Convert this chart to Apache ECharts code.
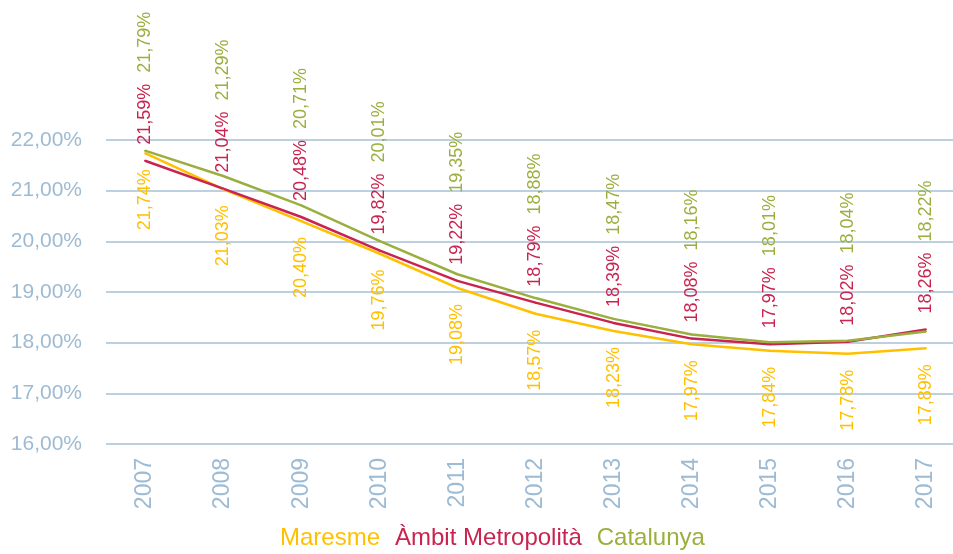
<!DOCTYPE html>
<html>
<head>
<meta charset="utf-8">
<script src="https://cdn.jsdelivr.net/npm/echarts@6/dist/echarts.min.js"></script>
<style>
  html, body { margin: 0; padding: 0; background: #fff; }
  #chart { width: 953px; height: 554px; }
</style>
</head>
<body>
<div id="chart"></div>
<script>
const years = ['2007', '2008', '2009', '2010', '2011', '2012', '2013', '2014', '2015', '2016', '2017'];
const maresme = [21.74, 21.03, 20.40, 19.76, 19.08, 18.57, 18.23, 17.97, 17.84, 17.78, 17.89];
const ambit = [21.59, 21.04, 20.48, 19.82, 19.22, 18.79, 18.39, 18.08, 17.97, 18.02, 18.26];
const catalunya = [21.79, 21.29, 20.71, 20.01, 19.35, 18.88, 18.47, 18.16, 18.01, 18.04, 18.22];
const seriesNames = ['Maresme', 'Àmbit Metropolità', 'Catalunya'];

const font = '"Liberation Sans", Arial, sans-serif';
const yellow = '#FFC000';
const red = '#C8244F';
const green = '#9AAF3E';
const axisColor = '#9DBBD4';

const fmt = v => v.toFixed(2).replace('.', ',') + '%';

const chart = echarts.init(document.getElementById('chart'));

chart.setOption({
    animation: false,
    grid: { left: 106, right: -12, top: 140, bottom: 110, outerBoundsMode: 'none', containLabel: false },
    legend: {
        left: 270,
        top: 521,
        icon: 'none',
        itemWidth: 0,
        itemGap: 10,
        textStyle: { fontFamily: font, fontSize: 24 },
        data: [
            { name: seriesNames[0], textStyle: { color: yellow } },
            { name: seriesNames[1], textStyle: { color: red } },
            { name: seriesNames[2], textStyle: { color: green } }
        ]
    },
    xAxis: {
        type: 'category',
        data: years,
        boundaryGap: true,
        axisLine: { show: false },
        axisTick: { show: false },
        axisLabel: {
            rotate: 90,
            margin: 14,
            color: axisColor,
            fontFamily: font,
            fontSize: 23
        }
    },
    yAxis: {
        type: 'value',
        min: 16,
        max: 22,
        interval: 1,
        axisLine: { show: false },
        axisTick: { show: false },
        axisLabel: {
            margin: 24,
            color: axisColor,
            fontFamily: font,
            fontSize: 21,
            formatter: v => fmt(v)
        },
        splitLine: { lineStyle: { color: '#A7C0D6', width: 1.5 } }
    },
    series: [
        {
            name: seriesNames[0],
            type: 'line',
            data: maresme,
            symbol: 'circle',
            symbolSize: 2,
            lineStyle: { color: yellow, width: 2.5 },
            itemStyle: { color: yellow },
            labelLayout: { hideOverlap: false },
            label: {
                show: true,
                position: 'bottom',
                distance: 15,
                rotate: 90,
                align: 'right',
                verticalAlign: 'middle',
                color: yellow,
                fontFamily: font,
                fontSize: 18,
                formatter: p => fmt(p.value)
            }
        },
        {
            name: seriesNames[1],
            type: 'line',
            data: ambit,
            symbol: 'circle',
            symbolSize: 2,
            lineStyle: { color: red, width: 2.5 },
            itemStyle: { color: red },
            labelLayout: { hideOverlap: false },
            label: {
                show: true,
                position: 'top',
                distance: 15,
                rotate: 90,
                align: 'left',
                verticalAlign: 'middle',
                fontFamily: font,
                fontSize: 18,
                // Catalunya label sits right above the Àmbit one, in the same column
                formatter: p => '{r|' + fmt(ambit[p.dataIndex]) + '}{s| }{g|' + fmt(catalunya[p.dataIndex]) + '}',
                rich: {
                    r: { color: red, fontFamily: font, fontSize: 18 },
                    s: { width: 11, fontSize: 18 },
                    g: { color: green, fontFamily: font, fontSize: 18 }
                }
            }
        },
        {
            name: seriesNames[2],
            type: 'line',
            data: catalunya,
            symbol: 'circle',
            symbolSize: 2,
            lineStyle: { color: green, width: 2.5 },
            itemStyle: { color: green }
        }
    ]
});
</script>
</body>
</html>
